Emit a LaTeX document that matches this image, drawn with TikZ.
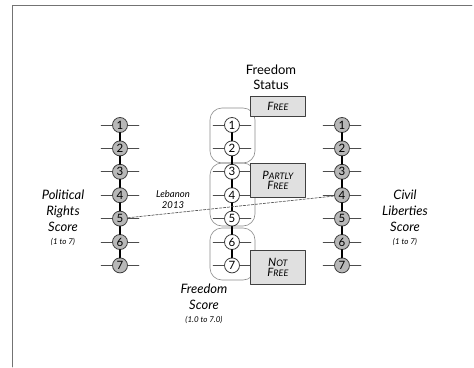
\documentclass[tikz,border=0pt]{standalone}
\usepackage{fontspec}
\setmainfont{Lato}
\usetikzlibrary{positioning}

\newcommand{\capsc}[2]{{\fontsize{11.5}{12}\selectfont #1}{\fontsize{9}{12}\selectfont #2}}

\begin{document}
\begin{tikzpicture}[x=1pt,y=-1pt,line cap=round,line join=round,
  every node/.style={inner sep=1pt},
  score/.style={circle,draw=black!75,line width=0.8pt,fill=black!28,minimum size=15pt,inner sep=0pt,font=\fontsize{11.5}{11.5}\selectfont},
  mscore/.style={score,fill=white},
  tick/.style={draw=black!70,line width=0.7pt},
  spine/.style={line width=2pt},
  band/.style={draw=black!45,line width=0.6pt,rounded corners=12pt},
  statusbox/.style={draw=black!75,fill=black!12,line width=0.8pt,minimum width=55pt,anchor=north west,align=center,font=\itshape},
  axislabel/.style={align=center,font=\itshape\fontsize{13}{16}\selectfont}]
  \useasboundingbox (0,0) rectangle (474,367);
  \def\lx{120}
  \def\mx{232}
  \def\rx{342}
  % frame
  \draw[black!55,line width=0.8pt] (472,5) -- (12,5) -- (12,367);
  % bands of the freedom score
  \draw[band] (210,108) rectangle (255,163);
  \draw[band] (210,163) rectangle (255,226);
  \draw[band] (210,228) rectangle (255,280);
  \foreach \i in {1,...,7}{
    \node[score] (L\i) at (\lx,{101.6+23.4*\i}) {\i};
    \node[score] (R\i) at (\rx,{101.6+23.4*\i}) {\i};
    \node[mscore] (M\i) at (\mx,{101.6+23.4*\i}) {\i};
    \draw[tick] (L\i.west) -- ++(-11,0);
    \draw[tick] (L\i.east) -- ++(11,0);
    \draw[tick] (R\i.west) -- ++(-11,0);
    \draw[tick] (R\i.east) -- ++(11,0);
    \draw[tick] (M\i.west) -- ++(-11,0);
    \draw[tick] (M\i.east) -- ++(11,0);
  }
  \foreach \i [evaluate=\i as \j using int(\i+1)] in {1,...,6}{
    \draw[spine] (L\i) -- (L\j);
    \draw[spine] (R\i) -- (R\j);
    \draw[spine] (M\i) -- (M\j);
  }
  % status boxes
  \node[statusbox,minimum height=20pt] (free) at (250,96) {\capsc{F}{REE}};
  \node[statusbox,minimum height=34pt] (partly) at (250,163) {\capsc{P}{ARTLY}\\[-2pt]\capsc{F}{REE}};
  \node[statusbox,minimum height=34pt] (notfree) at (250,250) {\capsc{N}{OT}\\[-2pt]\capsc{F}{REE}};
  \node[align=center,font=\fontsize{13}{15}\selectfont] (status) at (271,77) {Freedom\\Status};
  % axis labels
  \node[axislabel] (pr) at (63,218) {Political\\Rights\\Score\\[-3pt]{\fontsize{8}{9}\selectfont (1 to 7)}};
  \node[axislabel] (cl) at (405,218) {Civil\\Liber\kern0pt ties\\Score\\[-3pt]{\fontsize{8}{9}\selectfont (1 to 7)}};
  \node[axislabel] (fs) at (204,304) {Freedom\\Score\\[-3pt]{\fontsize{8}{9}\selectfont (1.0 to 7.0)}};
  % Lebanon
  \node[align=center,font=\itshape\fontsize{9.5}{11}\selectfont] (leb) at (173,200) {Lebanon\\2013};
  \draw[black!65,dash pattern=on 2.5pt off 1.5pt,line width=0.7pt] (L5) -- (R4);
\end{tikzpicture}
\end{document}
